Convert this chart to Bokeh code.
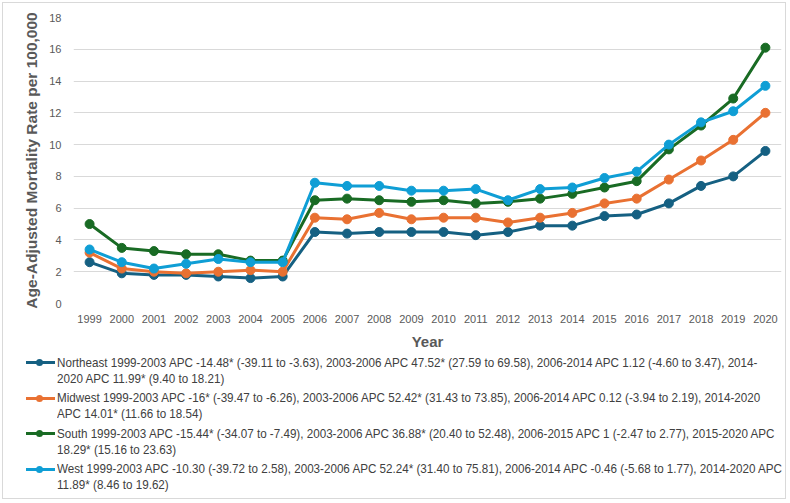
from bokeh.plotting import figure
from bokeh.models import FixedTicker, ColumnDataSource, Div
from bokeh.layouts import column
from bokeh.embed import file_html
from bokeh.resources import INLINE

years = list(range(1999, 2021))
northeast = [2.6, 1.9, 1.8, 1.8, 1.7, 1.6, 1.7, 4.5, 4.4, 4.5, 4.5, 4.5, 4.3, 4.5, 4.9, 4.9, 5.5, 5.6, 6.3, 7.4, 8.0, 9.6]
midwest = [3.2, 2.2, 2.0, 1.9, 2.0, 2.1, 2.0, 5.4, 5.3, 5.7, 5.3, 5.4, 5.4, 5.1, 5.4, 5.7, 6.3, 6.6, 7.8, 9.0, 10.3, 12.0]
south = [5.0, 3.5, 3.3, 3.1, 3.1, 2.7, 2.7, 6.5, 6.6, 6.5, 6.4, 6.5, 6.3, 6.4, 6.6, 6.9, 7.3, 7.7, 9.7, 11.2, 12.9, 16.1]
west = [3.4, 2.6, 2.2, 2.5, 2.8, 2.6, 2.6, 7.6, 7.4, 7.4, 7.1, 7.1, 7.2, 6.5, 7.2, 7.3, 7.9, 8.3, 10.0, 11.4, 12.1, 13.7]
y_ticks = [0, 2, 4, 6, 8, 10, 12, 14, 16, 18]

series_names = ["Northeast", "Midwest", "South", "West"]
series_colors = ["#156082", "#E97132", "#196B24", "#0F9ED5"]
series_values = [northeast, midwest, south, west]
legend_lines = [
    ["Northeast 1999-2003 APC -14.48* (-39.11 to -3.63), 2003-2006 APC 47.52* (27.59 to 69.58), 2006-2014 APC 1.12 (-4.60 to 3.47), 2014-",
     "2020 APC 11.99* (9.40 to 18.21)"],
    ["Midwest 1999-2003 APC -16* (-39.47 to -6.26), 2003-2006 APC 52.42* (31.43 to 73.85), 2006-2014 APC 0.12 (-3.94 to 2.19), 2014-2020",
     "APC 14.01* (11.66 to 18.54)"],
    ["South 1999-2003 APC -15.44* (-34.07 to -7.49), 2003-2006 APC 36.88* (20.40 to 52.48), 2006-2015 APC 1 (-2.47 to 2.77), 2015-2020 APC",
     "18.29* (15.16 to 23.63)"],
    ["West 1999-2003 APC -10.30 (-39.72 to 2.58), 2003-2006 APC 52.24* (31.40 to 75.81), 2006-2014 APC -0.46 (-5.68 to 1.77), 2014-2020 APC",
     "11.89* (8.46 to 19.62)"],
]

W = 782
H_MAIN = 349
H_LEG = 146

p = figure(width=W, height=H_MAIN, output_backend="svg", toolbar_location=None,
           x_range=(1998.5, 2020.5), y_range=(0, 18),
           min_border_left=70, min_border_right=4, min_border_top=14, min_border_bottom=47)
p.outline_line_color = None
p.background_fill_color = "white"
p.border_fill_color = "white"

for vals, col in zip(series_values, series_colors):
    src = ColumnDataSource(dict(x=years, y=vals))
    p.line("x", "y", source=src, line_color=col, line_width=3)
    p.scatter("x", "y", source=src, size=9, fill_color=col, line_color=col)

p.xaxis.ticker = FixedTicker(ticks=years)
p.yaxis.ticker = FixedTicker(ticks=y_ticks)
p.xgrid.grid_line_color = None
p.ygrid.grid_line_color = "#d9d9d9"
p.ygrid.grid_line_width = 1
for ax in (p.xaxis, p.yaxis):
    ax.axis_line_color = None
    ax.major_tick_line_color = None
    ax.minor_tick_line_color = None
    ax.major_tick_out = 0
    ax.major_tick_in = 0
    ax.minor_tick_out = 0
    ax.minor_tick_in = 0
    ax.major_label_text_color = "#595959"
    ax.major_label_text_font = "Liberation Sans"
    ax.major_label_text_font_size = "11px"
    ax.axis_label_text_color = "#595959"
    ax.axis_label_text_font = "Liberation Sans"
    ax.axis_label_text_font_style = "bold"
p.xaxis.axis_label_text_font_size = "15px"
p.yaxis.axis_label_text_font_size = "15.5px"
p.xaxis.axis_label = "Year"
p.yaxis.axis_label = "Age-Adjusted Mortality Rate per 100,000"
p.xaxis.major_label_standoff = 11
p.xaxis.axis_label_standoff = 7
p.yaxis.major_label_standoff = 12
p.yaxis.axis_label_standoff = 6

entries = []
for name, col, lines in zip(series_names, series_colors, legend_lines):
    entries.append(
        '<div style="position:relative; padding-left:54px; line-height:16px; height:32px; margin-bottom:3.5px;">'
        f'<span style="position:absolute; left:23px; top:6.5px; width:29px; height:3px; background:{col};"></span>'
        f'<span style="position:absolute; left:33px; top:4.5px; width:7px; height:7px; border-radius:50%; background:{col};"></span>'
        '<span style="display:inline-block; white-space:nowrap; transform:scaleX(0.862); transform-origin:0 0;">'
        f'{lines[0]}<br>{lines[1]}</span></div>'
    )
legend_html = (
    '<div style="padding-top:2.7px; font-family:\'Liberation Sans\', Arial, sans-serif; '
    'font-size:13.5px; color:#404040; width:780px; overflow:hidden;">' + "".join(entries) + '</div>'
)
leg = Div(text=legend_html, width=W, height=H_LEG,
          styles={"background": "white", "margin": "0", "padding": "0", "overflow": "hidden"})

layout = column(p, leg, margin=(2, 0, 0, 2),
                styles={"border": "1px solid #d9d9d9", "background": "white"})
open("out.html", "w").write(file_html(layout, INLINE))
